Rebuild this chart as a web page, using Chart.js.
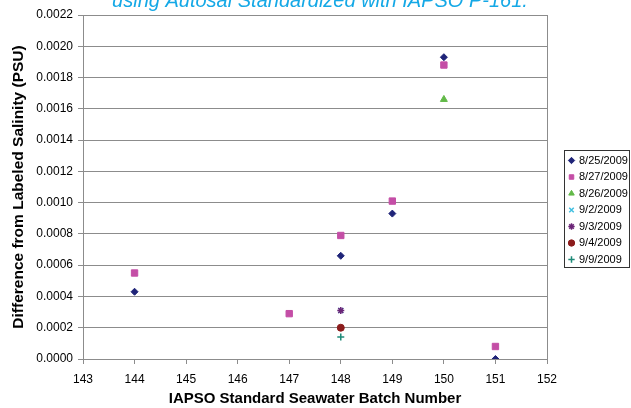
<!DOCTYPE html>
<html>
<head>
<meta charset="utf-8">
<script src="https://cdn.jsdelivr.net/npm/chart.js@4.4.1/dist/chart.umd.min.js"></script>
<style>
  html, body { margin: 0; padding: 0; background: #fff; overflow: hidden; }
  #wrap { position: absolute; left: 0; top: -16px; width: 631px; height: 424px; }
</style>
</head>
<body>
<div id="wrap"><canvas id="myChart"></canvas></div>
<script>
// batch numbers + salinity differences
const dates = ['8/25/2009', '8/27/2009', '8/26/2009', '9/2/2009', '9/3/2009', '9/4/2009', '9/9/2009'];
const batches_0825 = [144, 148, 149, 150, 151];
const diffs_0825 = [0.00043, 0.00066, 0.00093, 0.00193, 0.0];
const batches_0827 = [144, 147, 148, 149, 150, 151];
const diffs_0827 = [0.00055, 0.00029, 0.00079, 0.00101, 0.00188, 0.00008];
const batches_0826 = [150];
const diffs_0826 = [0.00166];
const batches_0902 = [148];
const diffs_0902 = [0.00031];
const batches_0903 = [148];
const diffs_0903 = [0.00031];
const batches_0904 = [148];
const diffs_0904 = [0.00020];
const batches_0909 = [148];
const diffs_0909 = [0.00014];

const xTicks = [143, 144, 145, 146, 147, 148, 149, 150, 151, 152];

function pts(xs, ys) {
    return xs.map((x, i) => ({ x: x, y: ys[i] }));
}

const series = [
    { x: batches_0825, y: diffs_0825, color: '#1f2478', style: 'rectRot', r: 3.5 },
    { x: batches_0827, y: diffs_0827, color: '#c44ea6', style: 'rect', r: 4.5 },
    { x: batches_0826, y: diffs_0826, color: '#62b948', style: 'triangle', r: 4 },
    { x: batches_0902, y: diffs_0902, color: '#3fbfe0', style: 'crossRot', r: 3.5 },
    { x: batches_0903, y: diffs_0903, color: '#6b2577', style: 'star', r: 3.5 },
    { x: batches_0904, y: diffs_0904, color: '#8c1c1c', style: 'circle', r: 3.5 },
    { x: batches_0909, y: diffs_0909, color: '#1e8a78', style: 'cross', r: 3.5 }
];

const datasets = series.map((s, i) => ({
    label: dates[i],
    data: pts(s.x, s.y),
    pointStyle: s.style,
    pointRadius: s.r,
    pointHoverRadius: s.r,
    backgroundColor: s.color,
    borderColor: s.color,
    borderWidth: (s.style == 'cross' || s.style == 'crossRot' || s.style == 'star') ? 1.5 : 1,
    showLine: false,
    order: i == 3 ? 1 : 0   // 9/2 sits under the 9/3 star
}));

// plot frame + box round the legend, like the excel one
const frames = {
    id: 'frames',
    beforeDatasetsDraw(chart) {
        const a = chart.chartArea;
        const ctx = chart.ctx;
        ctx.save();
        ctx.strokeStyle = '#8c8c8c';
        ctx.lineWidth = 1;
        ctx.strokeRect(Math.round(a.left) + 0.5, Math.round(a.top) + 0.5,
            Math.round(a.right - a.left), Math.round(a.bottom - a.top));
        ctx.restore();
    },
    afterDraw(chart) {
        const lg = chart.legend;
        const hb = lg.legendHitBoxes;
        if (!hb || !hb.length) return;
        const top = Math.round(hb[0].top - 5) + 0.5;
        const last = hb[hb.length - 1];
        const bottom = Math.round(last.top + last.height + 2) + 0.5;
        const left = Math.round(lg.left) + 0.5;
        const ctx = chart.ctx;
        ctx.save();
        ctx.strokeStyle = '#333';
        ctx.lineWidth = 1;
        ctx.strokeRect(left, top, 629.5 - left, bottom - top);
        ctx.restore();
    }
};

Chart.defaults.font.family = 'Arial, "Liberation Sans", sans-serif';
Chart.defaults.color = '#000';

new Chart(document.getElementById('myChart'), {
    type: 'scatter',
    data: { datasets: datasets },
    options: {
        responsive: true,
        maintainAspectRatio: false,
        animation: false,
        layout: { padding: { left: 9, right: 0, top: 0, bottom: 0 } },
        plugins: {
            title: {
                display: true,
                text: 'using Autosal Standardized with IAPSO P-161.',
                color: '#14a8e6',
                font: { size: 20, style: 'italic', weight: 'normal' },
                padding: { top: 5, bottom: 2 }
            },
            legend: {
                position: 'right',
                maxWidth: 67,
                // blank title just pushes the entries down a bit
                title: { display: true, text: '', font: { size: 10 }, padding: 8 },
                labels: {
                    usePointStyle: true,
                    boxWidth: 4,
                    boxHeight: 4.5,
                    padding: 5.5,
                    font: { size: 11 },
                    color: '#000',
                    sort: (a, b) => a.datasetIndex - b.datasetIndex
                }
            },
            tooltip: { enabled: false }
        },
        scales: {
            x: {
                type: 'linear',
                min: 143,
                max: 152,
                afterBuildTicks: (axis) => { axis.ticks = xTicks.map(v => ({ value: v })); },
                afterFit: (s) => { s.height = 49; },
                ticks: { font: { size: 12 }, padding: 8 },
                grid: { drawOnChartArea: false, drawTicks: true, tickLength: 5, color: '#8c8c8c' },
                border: { color: '#8c8c8c', width: 1 },
                title: {
                    display: true,
                    text: 'IAPSO Standard Seawater Batch Number',
                    font: { size: 15, weight: 'bold' },
                    padding: { top: 3, bottom: 0 }
                }
            },
            y: {
                min: 0,
                max: 0.0022,
                afterFit: (s) => { s.width = 74; },
                ticks: {
                    stepSize: 0.0002,
                    font: { size: 12 },
                    padding: 5,
                    callback: (v) => v.toFixed(4)
                },
                grid: { color: '#8c8c8c', tickLength: 5 },
                border: { color: '#8c8c8c', width: 1 },
                title: {
                    display: true,
                    text: 'Difference from Labeled Salinity (PSU)',
                    font: { size: 15.5, weight: 'bold' },
                    padding: { top: 0, bottom: 4 }
                }
            },
            // empty axis only there to keep the gap between plot and legend
            gap: {
                type: 'linear',
                position: 'right',
                display: true,
                ticks: { display: false },
                grid: { display: false, drawTicks: false },
                border: { display: false },
                afterFit: (s) => { s.width = 17; }
            }
        }
    },
    plugins: [frames]
});
</script>
</body>
</html>
